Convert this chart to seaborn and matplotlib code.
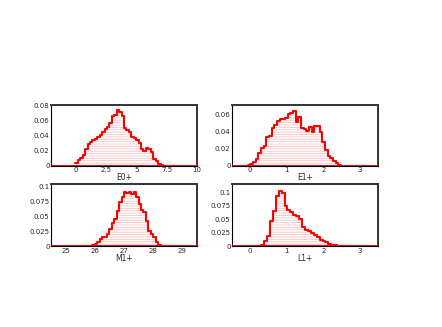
import numpy as np
import pandas as pd
import matplotlib
matplotlib.use("Agg")
import matplotlib.pyplot as plt
import seaborn as sns
from matplotlib.ticker import AutoMinorLocator, FuncFormatter

# histogram contents (bin start, bin width, bin heights)
e0_start, e0_width = 0.0, 0.2
e0_values = [0.004, 0.008, 0.011, 0.015, 0.022, 0.029, 0.032, 0.035, 0.036, 0.038,
             0.041, 0.045, 0.049, 0.052, 0.057, 0.066, 0.068, 0.074, 0.072, 0.066,
             0.050, 0.048, 0.045, 0.038, 0.037, 0.035, 0.030, 0.022, 0.020, 0.024,
             0.023, 0.018, 0.009, 0.006, 0.002, 0.001]

e1_start, e1_width = -0.07, 0.073
e1_values = [0.001, 0.002, 0.005, 0.008, 0.015, 0.021, 0.023, 0.034, 0.035, 0.044,
             0.048, 0.052, 0.054, 0.055, 0.056, 0.060, 0.061, 0.064, 0.051, 0.057,
             0.044, 0.043, 0.041, 0.045, 0.040, 0.047, 0.046, 0.040, 0.028, 0.019,
             0.012, 0.009, 0.006, 0.003, 0.001]

m1_start, m1_width = 25.917, 1 / 12
m1_values = [0.002, 0.004, 0.007, 0.012, 0.015, 0.016, 0.0205, 0.030, 0.039, 0.0455,
             0.060, 0.074, 0.083, 0.092, 0.089, 0.091, 0.088, 0.091, 0.083, 0.072,
             0.061, 0.057, 0.042, 0.025, 0.0205, 0.015, 0.007, 0.003, 0.001]

l1_start, l1_width = 0.30, 0.08
l1_values = [0.003, 0.009, 0.020, 0.047, 0.066, 0.093, 0.102, 0.098, 0.075, 0.067,
             0.064, 0.058, 0.056, 0.050, 0.036, 0.031, 0.028, 0.025, 0.021, 0.017,
             0.0125, 0.009, 0.0075, 0.005, 0.003, 0.002, 0.001, 0.001]

names = ["E0+", "E1+", "M1+", "L1+"]
x_ticks = [[0, 2.5, 5, 7.5, 10], [0, 1, 2, 3], [25, 26, 27, 28, 29], [0, 1, 2, 3]]
y_ticks = [[0, 0.02, 0.04, 0.06, 0.08], [0, 0.02, 0.04, 0.06],
           [0, 0.025, 0.05, 0.075, 0.1], [0, 0.025, 0.05, 0.075, 0.1]]

sns.set_style("white")
plt.rcParams["font.family"] = ["DejaVu Sans"]
plt.rcParams["hatch.linewidth"] = 0.5
pink = "#ffb8b8"
plt.rcParams["hatch.color"] = pink

fig = plt.figure(figsize=(4.42, 3.27), dpi=100)

W, H = 442, 327
boxes = [
    [51 / W, 1 - 166 / H, 146 / W, 61 / H],
    [232 / W, 1 - 166 / H, 146 / W, 61 / H],
    [51 / W, 1 - 246.3 / H, 146 / W, 62 / H],
    [232 / W, 1 - 246.3 / H, 146 / W, 62 / H],
]
xlims = [(-2, 10), (-0.5, 3.5), (24.5, 29.5), (-0.5, 3.5)]
ylims = [(0, 0.081), (0, 0.0708), (0, 0.1045), (0, 0.115)]
xminor = [10, 5, 5, 5]

hists = [(e0_start, e0_width, e0_values), (e1_start, e1_width, e1_values),
         (m1_start, m1_width, m1_values), (l1_start, l1_width, l1_values)]


def fmt(v, pos):
    return "%g" % v


for i, (start, width, vals) in enumerate(hists):
    ax = fig.add_axes(boxes[i])
    edges = [start + width * k for k in range(len(vals) + 1)]
    df = pd.DataFrame({"x": [e + width / 2 for e in edges[:-1]], "w": vals})

    # hatched fill
    sns.histplot(data=df, x="x", weights="w", bins=edges, element="step", fill=True,
                 color=pink, alpha=1, linewidth=0, ax=ax)
    for coll in ax.collections:
        coll.set_facecolor("none")
        coll.set_edgecolor(pink)
        coll.set_linewidth(0)
        coll.set_hatch("-------")
    # red outline
    sns.histplot(data=df, x="x", weights="w", bins=edges, element="step", fill=False,
                 color="red", linewidth=1.5, ax=ax)
    ax.axhline(0, color="red", lw=1.4, zorder=3)

    ax.set_xlim(*xlims[i])
    ax.set_ylim(*ylims[i])
    ax.set_xticks(x_ticks[i])
    ax.set_yticks(y_ticks[i])
    ax.xaxis.set_major_formatter(FuncFormatter(fmt))
    ax.yaxis.set_major_formatter(FuncFormatter(fmt))
    ax.xaxis.set_minor_locator(AutoMinorLocator(xminor[i]))
    ax.yaxis.set_minor_locator(AutoMinorLocator(5))
    ax.tick_params(which="both", direction="in", labelsize=5, pad=1,
                   color="#555555", width=0.5)
    ax.tick_params(which="major", length=3)
    ax.tick_params(which="minor", length=1.5)
    ax.tick_params(axis="x", which="both", top=False)
    ax.tick_params(axis="y", which="both", right=False)
    for side in ["left", "bottom"]:
        ax.spines[side].set_linewidth(0.8)
        ax.spines[side].set_color("black")
    for side in ["top", "right"]:
        ax.spines[side].set_linewidth(1.4)
        ax.spines[side].set_color("#333333")
    ax.set_xlabel(names[i], fontsize=5.5, labelpad=0)
    ax.set_ylabel("")

fig.savefig("out.png", dpi=100)
